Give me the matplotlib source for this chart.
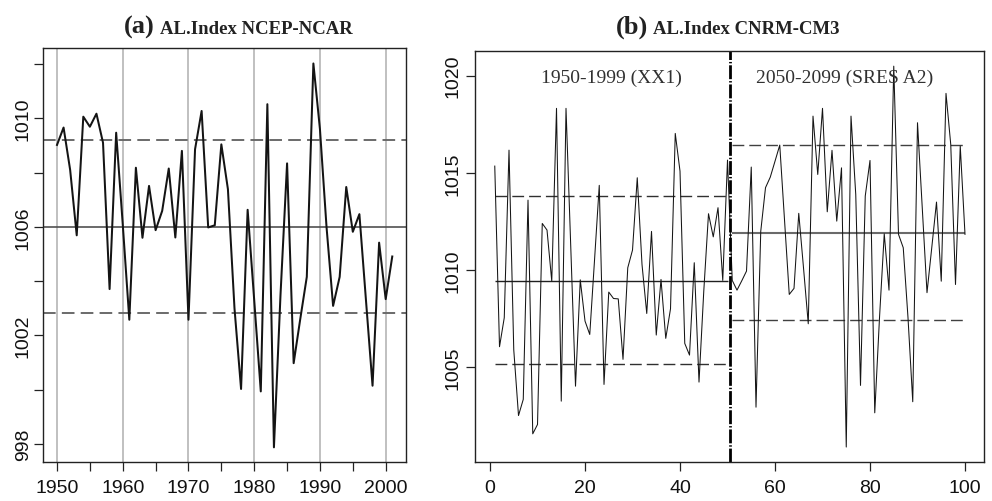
import numpy as np
import matplotlib
matplotlib.use("Agg")
import matplotlib.pyplot as plt
from matplotlib.ticker import MultipleLocator, FixedLocator

# ---- data -------------------------------------------------------------
years_a = np.arange(1950, 2002)
ncep = [1009.02, 1009.66, 1008.10, 1005.69, 1010.06, 1009.69, 1010.17, 1009.10, 1003.71, 1009.47,
        1006.10, 1002.58, 1008.18, 1005.60, 1007.51, 1005.88, 1006.59, 1008.15, 1005.61, 1008.80,
        1002.58, 1008.86, 1010.27, 1005.98, 1006.06, 1009.04, 1007.39, 1003.00, 1000.03, 1006.63,
        1003.30, 999.94, 1010.52, 997.88, 1003.50, 1008.34, 1000.98, 1002.60, 1004.16, 1012.02,
        1009.60, 1006.00, 1003.09, 1004.16, 1007.47, 1005.82, 1006.47, 1003.30, 1000.15, 1005.42,
        1003.34, 1004.91]
ncep_mean = 1006.0
ncep_band = (1002.82, 1009.19)

index_b = np.arange(1, 101)
cnrm = [1015.35, 1006.06, 1007.55, 1016.17, 1005.90, 1002.52, 1003.35, 1013.60, 1001.58, 1002.06,
        1012.40, 1012.06, 1009.43, 1018.32, 1003.26, 1018.32, 1011.20, 1004.03, 1009.50, 1007.38,
        1006.69, 1010.50, 1014.36, 1004.12, 1008.87, 1008.54, 1008.52, 1005.41, 1010.12, 1011.03,
        1014.75, 1010.29, 1007.77, 1011.99, 1006.66, 1009.52, 1006.49, 1008.01, 1017.03, 1015.09,
        1006.23, 1005.63, 1010.38, 1004.24, 1008.90, 1012.90, 1011.71, 1013.21, 1009.47, 1015.66,
        1009.47, 1008.97, 1009.45, 1009.95, 1015.30, 1002.95, 1012.00, 1014.24, 1014.78, 1015.60,
        1016.43, 1012.59, 1008.75, 1009.06, 1012.92, 1010.12, 1007.24, 1017.92, 1014.92, 1018.32,
        1013.00, 1016.16, 1012.52, 1015.26, 1000.90, 1017.92, 1013.89, 1004.07, 1013.81, 1015.64,
        1002.66, 1007.55, 1011.87, 1008.97, 1020.49, 1011.84, 1011.15, 1007.55, 1003.23, 1017.58,
        1013.21, 1008.84, 1011.15, 1013.50, 1009.43, 1019.09, 1016.46, 1009.26, 1016.38, 1011.84]
hist_span = (1, 50)
hist_mean = 1009.45
hist_band = (1005.15, 1013.79)
fut_span = (51, 100)
fut_mean = 1011.90
fut_band = (1007.43, 1016.43)
split_at = 50.5

period_labels = ["1950-1999 (XX1)", "2050-2099 (SRES A2)"]
period_label_x = [25.6, 74.7]
period_label_y = 1019.9

# ---- figure -----------------------------------------------------------
W, H = 992, 502
fig = plt.figure(figsize=(W / 100, H / 100), dpi=100)
sans = "Liberation Sans"
serif = "Liberation Serif"

def box(l, t, r, b):
    return [l / W, 1 - b / H, (r - l) / W, (b - t) / H]

ax_a = fig.add_axes(box(43, 49, 406, 463))
ax_b = fig.add_axes(box(475, 52, 984, 463))

for ax in (ax_a, ax_b):
    for s in ax.spines.values():
        s.set_linewidth(1.0)
        s.set_color("#222222")
    ax.tick_params(which="both", length=6.5, width=0.9, color="#222222",
                   labelsize=14, labelfontfamily=sans, labelcolor="#111111")

# panel (a)
ax_a.set_xlim(1947.87, 2003.09)
ax_a.set_ylim(997.34, 1012.59)
ax_a.xaxis.set_major_locator(MultipleLocator(10))
ax_a.xaxis.set_minor_locator(MultipleLocator(5))
ax_a.yaxis.set_major_locator(FixedLocator([998, 1002, 1006, 1010]))
ax_a.yaxis.set_minor_locator(FixedLocator([1000, 1004, 1008, 1012]))
ax_a.tick_params(axis="x", which="both", pad=6)
ax_a.tick_params(axis="y", which="both", pad=1.5, labelrotation=90)
for lab in ax_a.get_yticklabels():
    lab.set_va("center")
ax_a.grid(axis="x", which="major", color="#c0c0c0", linewidth=1.4)
ax_a.set_axisbelow(True)
ax_a.axhline(ncep_mean, color="#505050", linewidth=1.2)
for v in ncep_band:
    ax_a.axhline(v, color="#6a6a6a", linewidth=1.4, dashes=(6.5, 3.2))
ax_a.plot(years_a, ncep, color="#141414", linewidth=1.45)

# panel (b)
ax_b.set_xlim(-3.16, 104.0)
ax_b.set_ylim(1000.13, 1021.27)
ax_b.xaxis.set_major_locator(MultipleLocator(20))
ax_b.yaxis.set_major_locator(FixedLocator([1005, 1010, 1015, 1020]))
ax_b.tick_params(axis="x", pad=6)
ax_b.tick_params(axis="y", pad=3, labelrotation=90)
for lab in ax_b.get_yticklabels():
    lab.set_va("center")

ax_b.hlines(hist_mean, *hist_span, color="#202020", linewidth=1.0)
ax_b.hlines(hist_band, *hist_span, color="#303030", linewidth=1.0,
            linestyles=[(0, (8.5, 3.6))])
ax_b.hlines(fut_mean, *fut_span, color="#6a6a6a", linewidth=1.5)
ax_b.hlines(fut_band, *fut_span, color="#404040", linewidth=1.0,
            linestyles=[(0, (8.5, 3.6))])
ax_b.plot(index_b, cnrm, color="#151515", linewidth=0.75)
ax_b.axvline(split_at, color="#000000", linewidth=2.0, dashes=(5, 0.7, 0.5, 0.7))

for txt, x in zip(period_labels, period_label_x):
    ax_b.text(x, period_label_y, txt, ha="center", va="center",
              fontsize=14, family=serif, color="#303030")

# titles
def title(x_tag_right, x_rest_left, tag, rest):
    y = 1 - 34 / H
    fig.text(x_tag_right / W, y, tag, ha="right", va="baseline",
             fontsize=19, family=serif, weight="bold", color="#222222")
    fig.text(x_rest_left / W, y, rest, ha="left", va="baseline",
             fontsize=13.5, family=serif, weight="bold", color="#222222")

title(155, 160, "(a)", "AL.Index NCEP-NCAR")
title(648, 653, "(b)", "AL.Index CNRM-CM3")

fig.savefig("out.png", dpi=100)
